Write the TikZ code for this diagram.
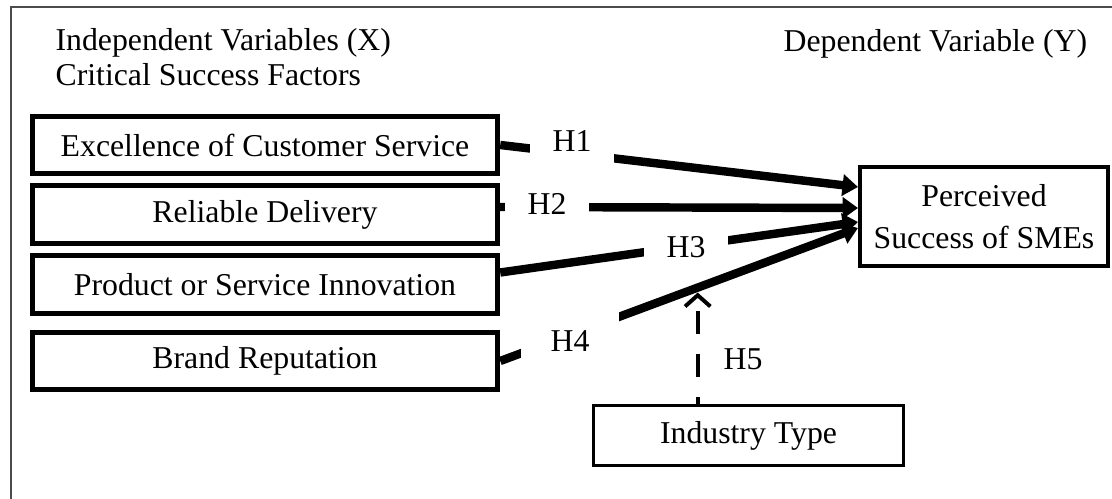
\documentclass[tikz,border=0pt]{standalone}
\usepackage{fontspec}
\setmainfont{Liberation Serif}
\usetikzlibrary{arrows.meta,calc,positioning}

\begin{document}
\begin{tikzpicture}[
    x=0.0125cm, y=-0.0125cm,
    font=\fontsize{11.3}{12.4}\selectfont,
    factor/.style={draw, line width=1.9pt, minimum width=5.8125cm, minimum height=0.72cm},
    outcome/.style={draw, line width=1.4pt, minimum width=3.1cm, minimum height=1.2375cm,
        align=center, font=\fontsize{11.3}{14.8}\selectfont},
    moderator/.style={draw, line width=1.2pt, minimum width=3.875cm, minimum height=0.75cm},
    path arrow/.style={-{Triangle[length=5.5pt,width=7.5pt]}, line width=3pt},
    mod arrow/.style={-{Straight Barb[length=4pt,width=9pt]}, line width=1.4pt,
        dash pattern=on 8.2pt off 7.1pt, dash phase=5.7pt},
    hyp/.style={fill=white, inner sep=0pt, minimum width=1.05cm, minimum height=0.6cm},
    heading/.style={inner sep=0pt, align=left}
]
    \useasboundingbox (0,0) rectangle (1112,499);

    % Frame
    \draw[black!70, line width=0.7pt] (11,499) -- (11,7) -- (1112,7);

    % Headings
    \node[heading, anchor=north west] (xhead) at (55,28)
        {Independent Variables (X)\\Critical Success Factors};
    \node[heading, anchor=base west] (yhead) at (783,52) {Dependent Variable (Y)};

    % Entities
    \node[factor] (service) at (265,145) {Excellence of Customer Service};
    \node[factor] (delivery) at (265,214.5) {Reliable Delivery};
    \node[factor] (innovation) at (265,284.5) {Product or Service Innovation};
    \node[factor] (brand) at (265,361) {Brand Reputation};

    \node[outcome] (success) at (984,216.5) {Perceived\\Success of SMEs};
    \node[moderator] (industry) at (748.5,435.5) {Industry Type};

    % Relationships
    \draw[path arrow] (service.east) -- ($(success.west)+(0,-29.5)$);
    \draw[path arrow] ($(delivery.east)+(0,-7.5)$) -- ($(success.west)+(0,-8.5)$);
    \draw[path arrow] ($(innovation.east)+(0,-12)$) -- ($(success.west)+(0,5.5)$);
    \draw[path arrow] (brand.east) -- ($(success.west)+(0,11.5)$)
        coordinate[pos=0.552] (h4mid);
    \draw[mod arrow] (h4mid |- industry.north) -- ($(h4mid)+(0,5)$);

    % Labels
    \node[hyp] (h1) at (572,141) {H1};
    \node[hyp] (h2) at (547,204) {H2};
    \node[hyp] (h3) at (686,247) {H3};
    \node[hyp, minimum width=1.2125cm, minimum height=0.75cm] (h4) at (570,341) {H4};
    \node (h5) at (743,359) {H5};
\end{tikzpicture}
\end{document}
